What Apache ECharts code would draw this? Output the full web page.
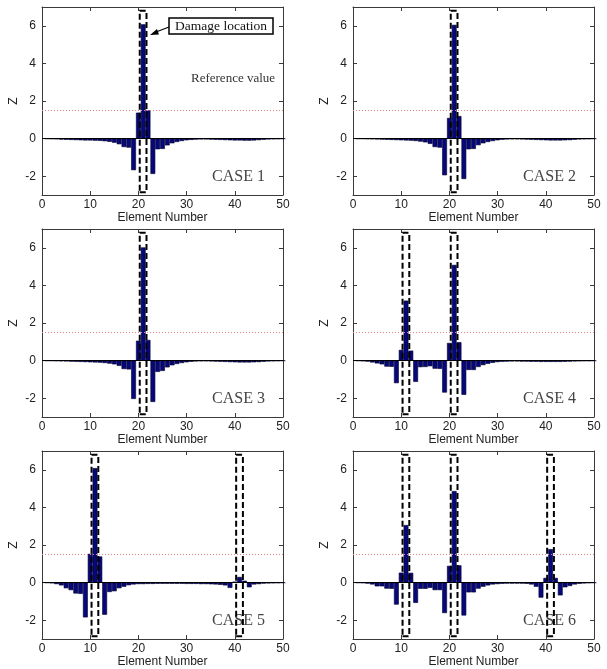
<!DOCTYPE html>
<html>
<head>
<meta charset="utf-8">
<script src="https://cdn.jsdelivr.net/npm/echarts@6/dist/echarts.min.js"></script>
<style>
  html, body { margin: 0; padding: 0; background: #fff; }
  #main { width: 607px; height: 669px; }
</style>
</head>
<body>
<div id="main"></div>
<script>
// Z values for elements 1..50, one array per case
var case1 = [-0.01, -0.02, -0.03, -0.05, -0.06, -0.07, -0.08, -0.09, -0.1, -0.1,
  -0.11, -0.12, -0.14, -0.17, -0.22, -0.3, -0.45, -0.48, -1.68, 1.38,
  6.08, 1.5, -1.88, -0.57, -0.55, -0.36, -0.25, -0.18, -0.13, -0.09,
  -0.07, -0.05, -0.04, -0.04, -0.05, -0.06, -0.07, -0.08, -0.09, -0.1,
  -0.1, -0.11, -0.11, -0.1, -0.08, -0.06, -0.04, -0.03, -0.02, -0.01]
var case2 = [-0.01, -0.01, -0.02, -0.03, -0.04, -0.05, -0.06, -0.07, -0.08, -0.09,
  -0.1, -0.11, -0.13, -0.16, -0.2, -0.28, -0.45, -0.48, -1.95, 1.1,
  6.05, 1.2, -2.15, -0.57, -0.55, -0.35, -0.25, -0.18, -0.13, -0.09,
  -0.06, -0.04, -0.03, -0.03, -0.04, -0.05, -0.06, -0.07, -0.08, -0.09,
  -0.1, -0.1, -0.1, -0.09, -0.08, -0.06, -0.04, -0.03, -0.02, -0.01]
var case3 = [-0.01, -0.01, -0.02, -0.03, -0.04, -0.05, -0.06, -0.07, -0.08, -0.09,
  -0.1, -0.11, -0.13, -0.16, -0.2, -0.28, -0.45, -0.47, -2.04, 1.06,
  6.02, 1.1, -2.2, -0.6, -0.55, -0.36, -0.25, -0.18, -0.13, -0.09,
  -0.06, -0.04, -0.03, -0.03, -0.04, -0.05, -0.06, -0.07, -0.08, -0.09,
  -0.1, -0.1, -0.1, -0.09, -0.08, -0.06, -0.04, -0.03, -0.02, -0.01]
var case4 = [-0.01, -0.03, -0.05, -0.1, -0.15, -0.2, -0.32, -0.33, -1.2, 0.57,
  3.19, 0.53, -1.13, -0.35, -0.34, -0.3, -0.43, -0.44, -1.7, 0.94,
  5.09, 0.98, -1.82, -0.5, -0.5, -0.34, -0.24, -0.17, -0.12, -0.08,
  -0.06, -0.05, -0.04, -0.04, -0.05, -0.05, -0.06, -0.06, -0.07, -0.07,
  -0.07, -0.07, -0.07, -0.06, -0.05, -0.04, -0.03, -0.02, -0.02, -0.01]
var case5 = [-0.01, -0.03, -0.08, -0.15, -0.3, -0.4, -0.58, -0.6, -1.85, 1.53,
  6.09, 1.39, -1.71, -0.5, -0.46, -0.3, -0.22, -0.14, -0.1, -0.08,
  -0.08, -0.07, -0.07, -0.06, -0.06, -0.06, -0.06, -0.06, -0.06, -0.07,
  -0.07, -0.07, -0.08, -0.08, -0.09, -0.1, -0.12, -0.15, -0.28, 0.05,
  0.3, 0.1, -0.25, -0.1, -0.08, -0.05, -0.04, -0.03, -0.02, -0.01]
var case6 = [-0.01, -0.02, -0.05, -0.1, -0.2, -0.2, -0.32, -0.33, -1.17, 0.53,
  3.06, 0.52, -1.08, -0.33, -0.33, -0.28, -0.4, -0.4, -1.62, 0.89,
  4.87, 0.92, -1.75, -0.52, -0.52, -0.32, -0.22, -0.15, -0.1, -0.08,
  -0.06, -0.05, -0.05, -0.05, -0.05, -0.06, -0.1, -0.22, -0.8, 0.25,
  1.78, 0.25, -0.68, -0.25, -0.18, -0.1, -0.06, -0.04, -0.02, -0.01]

var caseNames = ['CASE 1', 'CASE 2', 'CASE 3', 'CASE 4', 'CASE 5', 'CASE 6']
var caseData = [case1, case2, case3, case4, case5, case6]
// damaged element numbers per case (dashed boxes)
var damageElems = [[21], [21], [21], [11, 21], [11, 41], [11, 21, 41]]
var refValue = 1.5
var xTicks = [0, 10, 20, 30, 40, 50]
var yTicks = [-2, 0, 2, 4, 6]

var dom = document.getElementById('main')
var myChart = echarts.init(dom)

// grid boxes (left, top) in px
var grids = [
  { left: 42, top: 7 }, { left: 353, top: 7 },
  { left: 42, top: 229 }, { left: 353, top: 229 },
  { left: 42, top: 451 }, { left: 353, top: 451 }
]
var gw = 241, gh = 188

var sans = 'Liberation Sans'
var serif = 'Liberation Serif'
var axisCol = '#3a3a3a'

var option = { animation: false, grid: [], xAxis: [], yAxis: [], series: [], graphic: [] }

grids.forEach(function (g, k) {
  option.grid.push({ left: g.left, top: g.top, width: gw, height: gh })
  // bottom + top x axes
  option.xAxis.push({
    type: 'value', gridIndex: k, min: 0, max: 50, interval: 10, position: 'bottom',
    name: 'Element Number', nameLocation: 'middle', nameGap: 17,
    nameTextStyle: { fontFamily: sans, fontSize: 12, color: '#222' },
    axisLine: { onZero: false, lineStyle: { color: axisCol, width: 1 } },
    axisTick: { inside: true, length: 4, lineStyle: { color: axisCol } },
    axisLabel: { fontFamily: sans, fontSize: 12, color: '#222', margin: 4 },
    splitLine: { show: false }
  })
  option.xAxis.push({
    type: 'value', gridIndex: k, min: 0, max: 50, interval: 10, position: 'top',
    axisLine: { onZero: false, lineStyle: { color: axisCol, width: 1 } },
    axisTick: { inside: true, length: 4, lineStyle: { color: axisCol } },
    axisLabel: { show: false }, splitLine: { show: false }
  })
  // left + right y axes
  option.yAxis.push({
    type: 'value', gridIndex: k, min: -3, max: 7, position: 'left',
    name: 'Z', nameLocation: 'middle', nameGap: 22, nameRotate: 90, nameMoveOverlap: false,
    nameTextStyle: { fontFamily: sans, fontSize: 12, color: '#222' },
    axisLine: { show: true, onZero: false, lineStyle: { color: axisCol, width: 1 } },
    axisTick: { show: true, inside: true, length: 4, customValues: yTicks, lineStyle: { color: axisCol } },
    axisLabel: { fontFamily: sans, fontSize: 12, color: '#222', margin: 6, customValues: yTicks },
    splitLine: { show: false }
  })
  option.yAxis.push({
    type: 'value', gridIndex: k, min: -3, max: 7, position: 'right',
    axisLine: { show: true, onZero: false, lineStyle: { color: axisCol, width: 1 } },
    axisTick: { show: true, inside: true, length: 4, customValues: yTicks, lineStyle: { color: axisCol } },
    axisLabel: { show: false, customValues: yTicks },
    splitLine: { show: false }
  })

  var vals = caseData[k]
  option.series.push({
    type: 'bar',
    xAxisIndex: 2 * k, yAxisIndex: 2 * k,
    barWidth: 4.8,
    itemStyle: { color: '#07077c', borderColor: '#00002a', borderWidth: 0.6 },
    data: vals.map(function (v, i) { return [i + 1, v] }),
    markLine: {
      silent: true, symbol: 'none', label: { show: false }, z: 4,
      data: [
        { yAxis: 0, lineStyle: { color: '#000', width: 1, type: 'solid' } },
        { yAxis: refValue, lineStyle: { color: '#e58080', width: 1, type: [1, 2] } }
      ]
    }
  })

  // dashed damage boxes
  option.series.push({
    type: 'scatter',
    xAxisIndex: 2 * k, yAxisIndex: 2 * k,
    data: [],
    z: 6,
    markArea: {
      silent: true, z: 6,
      itemStyle: { color: 'rgba(0,0,0,0)', borderColor: '#000', borderWidth: 2, borderType: [6, 3] },
      data: damageElems[k].map(function (e) {
        return [{ xAxis: e - 0.72, yAxis: -2.85 }, { xAxis: e + 0.68, yAxis: 6.8 }]
      })
    }
  })

  option.graphic.push({
    type: 'text', left: g.left + gw - 11 - 60, top: g.top + 162,
    style: { text: caseNames[k], x: 60, y: 0, textAlign: 'right', font: '16px "' + serif + '"', fill: '#444' }
  })
})

// annotations on CASE 1
option.graphic.push({
  type: 'text', x: 191, y: 72,
  style: { text: 'Reference value', font: '13px "' + serif + '"', fill: '#333' }
})
option.graphic.push({
  type: 'rect', shape: { x: 169, y: 18, width: 104, height: 16 },
  style: { fill: '#fff', stroke: '#000', lineWidth: 1.5 }, z: 10
})
option.graphic.push({
  type: 'text', x: 221, y: 26, z: 11,
  style: { text: 'Damage location', font: '13.5px "' + serif + '"', fill: '#111', textAlign: 'center', textVerticalAlign: 'middle' }
})
option.graphic.push({
  type: 'line', shape: { x1: 169, y1: 27, x2: 156, y2: 32 },
  style: { stroke: '#000', lineWidth: 1.2 }, z: 10
})
option.graphic.push({
  type: 'polygon', shape: { points: [[150, 35], [157, 29], [159, 34.5]] },
  style: { fill: '#000' }, z: 10
})

myChart.setOption(option)
</script>
</body>
</html>
